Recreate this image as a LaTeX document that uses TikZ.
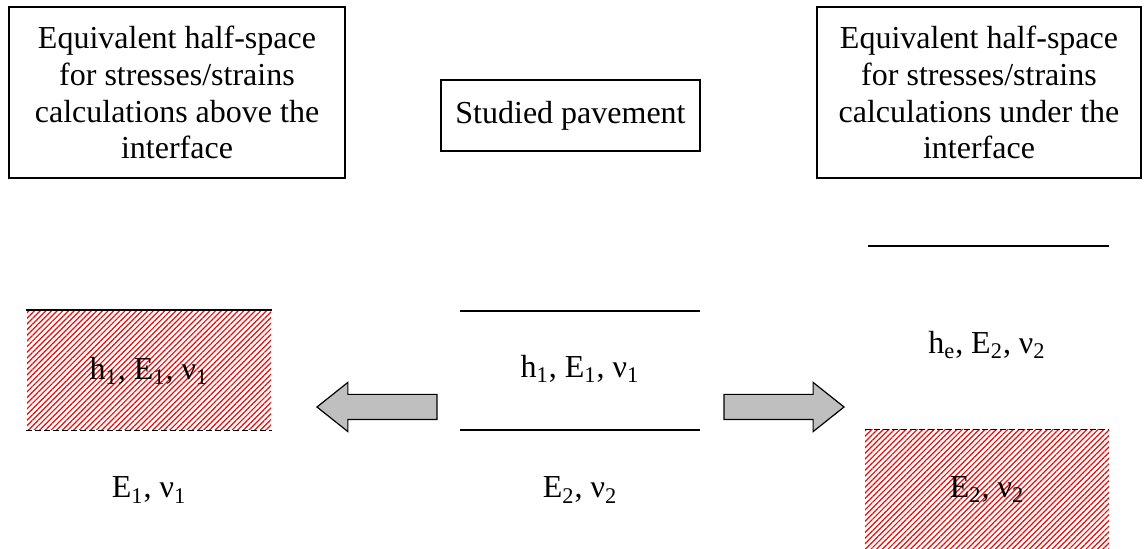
\documentclass[tikz,border=0pt]{standalone}
\usepackage{fontspec}
\setmainfont{Liberation Serif}
\usetikzlibrary{patterns.meta,shapes.arrows}

\begin{document}
\begin{tikzpicture}[x=0.5pt,y=-0.5pt,
    every node/.style={font=\fontsize{16}{18.4}\selectfont},
    textbox/.style={draw,line width=0.6pt,align=center,inner sep=0pt},
    halfspace/.style={pattern={Lines[angle=45,distance=2pt,line width=0.6pt]},
      pattern color=red,inner sep=0pt,minimum width=122pt,minimum height=59.5pt},
    layer/.style={line width=0.9pt},
    interface/.style={line width=0.9pt,dash pattern=on 3pt off 1.5pt},
    bigarrow/.style={single arrow,draw,line width=0.6pt,fill=black!25,
      minimum height=60pt,inner xsep=0pt,inner ysep=6pt,single arrow head extend=6pt,
      single arrow tip angle=77,anchor=tip}]
    \useasboundingbox (0,0) rectangle (1147,549);

    % top boxes
    \node[textbox,minimum width=168pt,minimum height=85.5pt] (above) at (177,92.5)
      {Equivalent half-space\\for stresses/strains\\calculations above the\\interface};
    \node[textbox,minimum width=129.5pt,minimum height=35.5pt] (studied) at (570.5,115.5)
      {Studied pavement};
    \node[textbox,minimum width=162pt,minimum height=85.5pt] (under) at (979,92.5)
      {Equivalent half-space\\for stresses/strains\\calculations under the\\interface};

    % left: half-space above the interface
    \node[halfspace] (hs-left) at (149,370.5) {h\textsubscript{1}, E\textsubscript{1}, ν\textsubscript{1}};
    \draw[layer] (hs-left.north west) -- (hs-left.north east);
    \draw[interface] (hs-left.south west) -- (hs-left.south east);
    \node (sub-left) at (149,490) {E\textsubscript{1}, ν\textsubscript{1}};

    % middle: studied pavement
    \coordinate (surf-w) at (460,311);
    \coordinate (surf-e) at (700,311);
    \coordinate (intf-w) at (460,430);
    \coordinate (intf-e) at (700,430);
    \draw[layer] (surf-w) -- (surf-e);
    \draw[layer] (intf-w) -- (intf-e);
    \node (layer-mid) at (580,369) {h\textsubscript{1}, E\textsubscript{1}, ν\textsubscript{1}};
    \node (sub-mid) at (580,490) {E\textsubscript{2}, ν\textsubscript{2}};

    % right: half-space under the interface
    \coordinate (top-w) at (868,246);
    \coordinate (top-e) at (1109,246);
    \draw[layer] (top-w) -- (top-e);
    \node (layer-right) at (987,345) {h\textsubscript{e}, E\textsubscript{2}, ν\textsubscript{2}};
    \node[halfspace] (hs-right) at (987,489.5) {E\textsubscript{2}, ν\textsubscript{2}};
    \draw[interface] (hs-right.north west) -- (hs-right.north east);

    \node[bigarrow,shape border rotate=180] (to-left) at (316,407) {};
    \node[bigarrow] (to-right) at (845,407) {};
\end{tikzpicture}
\end{document}
